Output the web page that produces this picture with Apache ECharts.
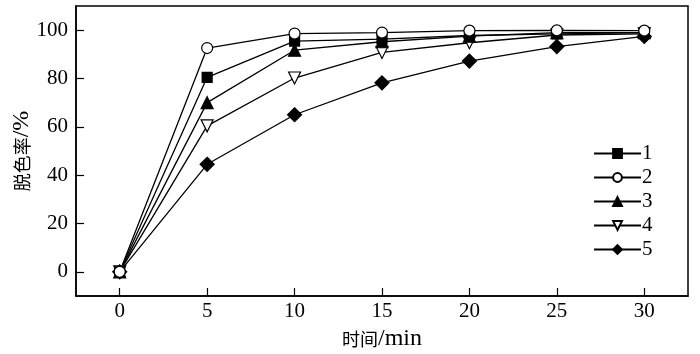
<!DOCTYPE html>
<html>
<head>
<meta charset="utf-8">
<script src="https://cdn.jsdelivr.net/npm/echarts@6/dist/echarts.min.js"></script>
<style>
  html, body { margin: 0; padding: 0; background: #fff; }
  #chart { width: 700px; height: 354px; }
</style>
</head>
<body>
<div id="chart"></div>
<script>
  // 时间/min
  var times = [0, 5, 10, 15, 20, 25, 30];
  var xTicks = [0, 5, 10, 15, 20, 25, 30];
  var yTicks = [0, 20, 40, 60, 80, 100];

  var names = ['1', '2', '3', '4', '5'];
  var s1 = [0, 80.5, 95.5, 96.3, 97.8, 98.5, 99.0];
  var s2 = [0, 92.6, 98.6, 99.0, 99.8, 99.9, 99.8];
  var s3 = [0, 70.0, 91.7, 95.2, 97.5, 99.0, 99.0];
  var s4 = [0, 60.4, 80.2, 90.8, 94.8, 98.0, 98.5];
  var s5 = [0, 44.5, 65.0, 78.2, 87.2, 93.2, 97.4];

  var font = '"Liberation Serif", "Noto Sans CJK SC", serif';
  var nameRich = {
    cn: { fontFamily: '"Noto Sans CJK SC", sans-serif', fontSize: 18, color: '#000' },
    en: { fontFamily: '"Liberation Serif", serif', fontSize: 24, color: '#000' }
  };

  function pairs(vals) {
    return times.map(function (t, i) { return [t, vals[i]]; });
  }

  function mk(name, vals, symbol, fill, rotate, size) {
    return {
      name: name,
      type: 'line',
      data: pairs(vals),
      symbol: symbol,
      symbolSize: size,
      symbolRotate: rotate,
      showAllSymbol: true,
      lineStyle: { color: '#000', width: 1.3 },
      itemStyle: { color: fill, borderColor: '#000', borderWidth: 1.2 },
      emphasis: { disabled: true },
      z: 3
    };
  }

  var chart = echarts.init(document.getElementById('chart'));
  chart.setOption({
    animation: false,
    textStyle: { fontFamily: font },
    grid: {
      left: 76, right: 12, top: 6, bottom: 58,
      outerBoundsMode: 'none',
      containLabel: false,
      show: true, borderColor: '#000', borderWidth: 1.5, backgroundColor: 'transparent'
    },
    legend: {
      orient: 'vertical',
      left: 588, top: 138,
      itemWidth: 47, itemHeight: 11, itemGap: 3,
      textStyle: { fontFamily: font, fontSize: 21, color: '#000', padding: [0, 0, 0, -4] },
      data: names
    },
    xAxis: {
      type: 'value',
      min: -2.5, max: 32.5,
      name: '{cn|时间}{en|/min}',
      nameLocation: 'middle',
      nameGap: 31,
      nameTextStyle: { rich: nameRich },
      axisLine: { show: true, onZero: false, lineStyle: { color: '#000', width: 1.5 } },
      axisTick: { show: true, inside: true, length: 8, customValues: xTicks, lineStyle: { color: '#000', width: 1.2 } },
      axisLabel: { customValues: xTicks, fontFamily: font, fontSize: 21, color: '#000', margin: 5 },
      splitLine: { show: false }
    },
    yAxis: {
      type: 'value',
      min: -10, max: 110,
      name: '{cn|脱色率}{en|/%}',
      nameLocation: 'middle',
      nameGap: 42,
      nameMoveOverlap: false,
      nameRotate: 90,
      nameTextStyle: { rich: nameRich },
      axisLine: { show: true, onZero: false, lineStyle: { color: '#000', width: 1.5 } },
      axisTick: { show: true, inside: true, length: 8, customValues: yTicks, lineStyle: { color: '#000', width: 1.2 } },
      axisLabel: { customValues: yTicks, fontFamily: font, fontSize: 21, color: '#000', margin: 8 },
      splitLine: { show: false }
    },
    series: [
      mk(names[4], s5, 'diamond', '#000', 0, 14),
      mk(names[3], s4, 'triangle', '#fff', 180, 12),
      mk(names[2], s3, 'triangle', '#000', 0, 12),
      mk(names[0], s1, 'rect', '#000', 0, 10),
      mk(names[1], s2, 'circle', '#fff', 0, 11)
    ]
  });
</script>
</body>
</html>
